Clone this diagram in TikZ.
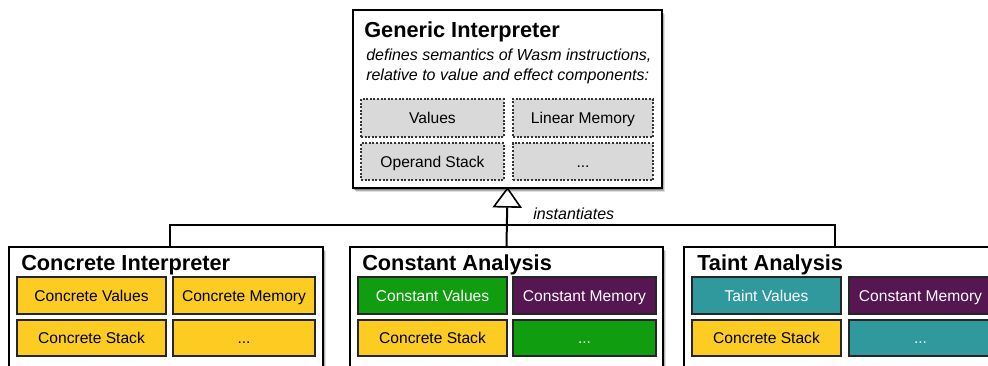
\documentclass[tikz,border=0pt]{standalone}
\usepackage{fontspec}
\setmainfont{Liberation Sans}
\usetikzlibrary{shadows,arrows.meta,fit}
\definecolor{cyellow}{RGB}{252,204,34}
\definecolor{cgreen}{RGB}{16,158,16}
\definecolor{cpurple}{RGB}{85,22,82}
\definecolor{cteal}{RGB}{48,153,158}
\definecolor{cgray}{RGB}{217,217,217}
\tikzset{
  outerbox/.style={draw=black, line width=1.5pt, fill=white, inner sep=0pt,
    drop shadow={shadow xshift=2.6pt, shadow yshift=-3.2pt, fill=black, opacity=0.12},
    drop shadow={shadow xshift=1.8pt, shadow yshift=-2.2pt, fill=black, opacity=0.2},
    drop shadow={shadow xshift=1pt, shadow yshift=-1.2pt, fill=black, opacity=0.25}},
  innerbox/.style={draw=black!85, line width=0.8pt, inner sep=0pt},
  graybox/.style={innerbox, fill=cgray, dash pattern=on 1.5pt off 1.2pt, draw=black!80},
  ybox/.style={innerbox, fill=cyellow},
  gbox/.style={innerbox, fill=cgreen},
  pbox/.style={innerbox, fill=cpurple},
  tbox/.style={innerbox, fill=cteal},
  lab/.style={inner sep=0pt, text height=8.4pt, text depth=0pt, font=\fontsize{11.7}{14}\selectfont},
  blab/.style={lab, text=black},
  wlab/.style={lab, text=white},
  titletext/.style={anchor=base west, inner sep=0pt, font=\fontsize{16.3}{19}\selectfont\bfseries},
  itext/.style={anchor=base west, inner sep=0pt, font=\fontsize{12}{15}\selectfont\itshape},
  conn/.style={line width=1.5pt, draw=black},
}
\begin{document}
\begin{tikzpicture}[x=0.75pt,y=-0.75pt]
\useasboundingbox (0,0) rectangle (988,365);
\clip (0,0) rectangle (988,365);

% Generic Interpreter
\node[outerbox, fit={(353,10) (662,188)}] (gen) {};
\node[titletext] (gent) at (364,37) {Generic Interpreter};
\node[itext] (geni1) at (366,60) {defines semantics of Wasm instructions,};
\node[itext] (geni2) at (366,80) {relative to value and effect components:};
\node[graybox, fit={(361,99) (504,137)}, label={[blab]center:Values}] (gv) {};
\node[graybox, fit={(513,99) (653,137)}, label={[blab]center:Linear Memory}] (gm) {};
\node[graybox, fit={(361,143) (504,180)}, label={[blab]center:Operand Stack}] (gs) {};
\node[graybox, fit={(513,143) (653,180)}, label={[blab]center:...}] (gd) {};

% Concrete Interpreter
\node[outerbox, fit={(9,247) (323,375)}] (ci) {};
\node[titletext] (cit) at (21,270) {Concrete Interpreter};
\node[ybox, fit={(17,277) (166,314)}, label={[blab]center:Concrete Values}] (civ) {};
\node[ybox, fit={(173,277) (315,314)}, label={[blab]center:Concrete Memory}] (cim) {};
\node[ybox, fit={(17,320) (166,356)}, label={[blab]center:Concrete Stack}] (cis) {};
\node[ybox, fit={(173,320) (315,356)}, label={[blab]center:...}] (cid) {};

% Constant Analysis
\node[outerbox, fit={(350,247) (663,375)}] (ca) {};
\node[titletext] (cat) at (362,270) {Constant Analysis};
\node[gbox, fit={(358,277) (507,314)}, label={[wlab]center:Constant Values}] (cav) {};
\node[pbox, fit={(513,277) (656,314)}, label={[wlab]center:Constant Memory}] (cam) {};
\node[ybox, fit={(358,320) (507,356)}, label={[blab]center:Concrete Stack}] (cas) {};
\node[gbox, fit={(513,320) (656,356)}, label={[wlab]center:...}] (cad) {};

% Taint Analysis
\node[outerbox, fit={(684,247) (998,375)}] (ta) {};
\node[titletext] (tat) at (697,270) {Taint Analysis};
\node[tbox, fit={(692,277) (841,314)}, label={[wlab]center:Taint Values}] (tav) {};
\node[pbox, fit={(849,277) (992,314)}, label={[wlab]center:Constant Memory}] (tam) {};
\node[ybox, fit={(692,320) (841,356)}, label={[blab]center:Concrete Stack}] (tas) {};
\node[tbox, fit={(849,320) (992,356)}, label={[wlab]center:...}] (tad) {};

% connectors
\coordinate (jl) at (170,225);
\coordinate (jr) at (835,225);
\draw[conn] (jl |- ci.north) -- (jl) -- (jr) -- (jr |- ta.north);
\draw[conn, -{Triangle[open, length=15.5pt, width=22pt, line width=1.2pt]}, shorten >=-1.5pt] (ca.north) -- (gen.south);
\node[itext] (inst) at (533,219) {instantiates};
\end{tikzpicture}
\end{document}
